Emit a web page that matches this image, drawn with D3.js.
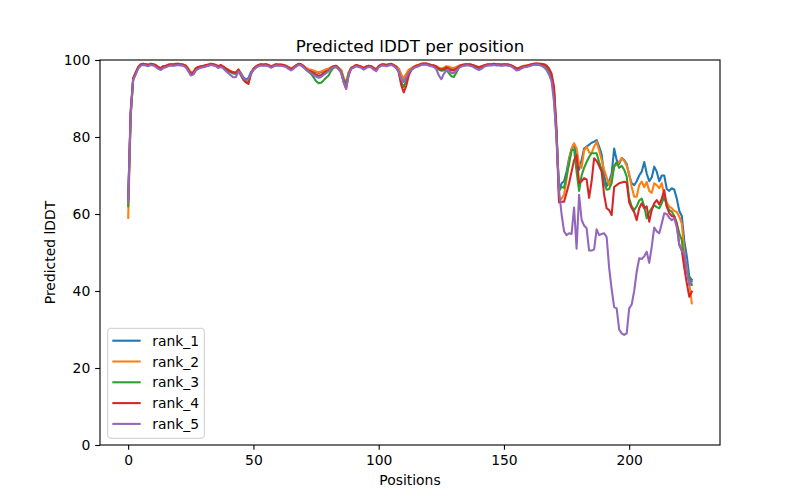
<!DOCTYPE html>
<html>
<head>
<meta charset="utf-8">
<script src="https://cdn.jsdelivr.net/npm/d3@7"></script>
<style>
  body { margin: 0; background: #fff; }
  svg { font-family: "DejaVu Sans", sans-serif; }
</style>
</head>
<body>
<svg id="chart" width="800" height="500"></svg>
<script>
// values, one per position 0..225
const rank1 = [63, 86, 95, 96.5, 98, 98.7, 98.9, 98.8, 98.6, 98.9,
  98.8, 98.5, 98, 97.6, 98.2, 98.3, 98.6, 98.8, 98.7, 98.8,
  98.9, 98.8, 98.7, 98.4, 97.5, 96.3, 96.5, 97.6, 98, 98.2,
  98.3, 98.5, 98.7, 98.9, 98.8, 98.6, 98.2, 98.5, 98.1, 97.6,
  97.2, 96.9, 96.6, 96.5, 97.4, 96.6, 95.5, 94.9, 95.3, 96.9,
  97.6, 98.2, 98.6, 98.8, 98.7, 98.8, 98.6, 98.2, 98.5, 98.8,
  98.7, 98.7, 98.6, 98.4, 98, 97.6, 98, 98.5, 98.9, 98.8,
  98.4, 97.8, 97.4, 97.3, 97, 96.8, 96.6, 96.8, 97.1, 97.4,
  97.6, 98, 98.3, 98.4, 97.9, 97.3, 95, 93.6, 96.6, 97.9,
  98.2, 98.6, 98.4, 98.2, 97.8, 98.2, 98.4, 98.3, 97.8, 97.4,
  98.3, 98.7, 98.8, 98.6, 98.8, 98.9, 98.6, 98.2, 97.6, 96,
  95, 96, 97.1, 97.6, 98.1, 98.4, 98.6, 98.9, 99, 99,
  98.8, 98.6, 98.5, 98.2, 97.7, 97.5, 97.7, 98, 97.9, 97.6,
  97.7, 98, 98.3, 98.6, 98.7, 98.8, 98.8, 98.7, 98.5, 98.2,
  98, 98.2, 98.5, 98.7, 98.8, 98.8, 98.9, 98.8, 98.8, 98.7,
  98.8, 98.8, 98.7, 98.5, 98.1, 97.7, 97.8, 98.1, 98.3, 98.4,
  98.6, 98.8, 98.9, 99, 98.9, 98.8, 98.6, 98.2, 97, 95.5,
  91, 80, 66, 68, 68.5, 71, 74.5, 76.8, 78.3, 75,
  71.5, 74, 77, 77.5, 78, 78.5, 78.8, 79.2, 77.5, 75.5,
  70, 67.2, 68.5, 70.5, 77, 74, 73, 74.5, 74, 73,
  70, 68, 67.5, 68.5, 70, 71, 73.5, 70.5, 68.5, 69.5,
  72.3, 71, 68.5, 70, 70, 66.5, 66, 66.7, 66.3, 64,
  60.8, 59.5, 53, 49, 43.7, 42.9]

const rank2 = [59, 85, 95, 96.6, 98.1, 98.8, 99, 98.9, 98.7, 99,
  98.9, 98.6, 98.1, 97.8, 98.3, 98.4, 98.7, 98.9, 98.8, 98.9,
  99, 98.9, 98.8, 98.6, 97.8, 96.8, 97, 97.9, 98.2, 98.3,
  98.4, 98.6, 98.8, 99, 98.9, 98.7, 98.3, 98.6, 98.2, 97.8,
  97.4, 97.1, 96.8, 96.8, 97.6, 96.5, 95.2, 94.5, 94, 96.5,
  97.8, 98.4, 98.7, 98.9, 98.8, 98.9, 98.7, 98.4, 98.6, 98.9,
  98.8, 98.8, 98.7, 98.5, 98.2, 97.8, 98.1, 98.6, 99, 98.9,
  98.5, 98, 97.6, 97.5, 97.3, 97, 96.8, 97, 97.3, 97.6,
  97.8, 98.1, 98.4, 98.5, 98, 97.5, 95.5, 94, 96.8, 98,
  98.3, 98.7, 98.5, 98.3, 98, 98.3, 98.5, 98.4, 98, 97.6,
  98.4, 98.8, 98.9, 98.7, 98.9, 99, 98.7, 98.4, 97.8, 96.3,
  95.2, 96.4, 97.5, 97.9, 98.3, 98.6, 98.8, 99, 99.1, 99.1,
  98.9, 98.7, 98.6, 98.4, 98, 97.8, 98, 98.4, 98.3, 98,
  98, 98.2, 98.5, 98.7, 98.8, 98.9, 98.9, 98.8, 98.6, 98.4,
  98.2, 98.4, 98.6, 98.8, 98.9, 98.9, 99, 98.9, 98.9, 98.8,
  98.9, 98.9, 98.8, 98.6, 98.3, 97.9, 98, 98.3, 98.5, 98.6,
  98.7, 98.9, 99, 99.1, 99, 98.9, 98.8, 98.4, 97.2, 95.5,
  91, 79, 63.5, 64, 65, 69, 74, 77, 78.3, 77,
  73, 72, 76.5, 77.5, 76, 75.8, 77.5, 78.8, 76.5, 74,
  71.5, 69.5, 67.5, 69.5, 72.3, 72.8, 73.5, 74.5, 73.8, 72.5,
  70.5, 67, 64.5, 64.5, 67.5, 68.4, 67, 68.3, 66, 65.5,
  68, 67.5, 66.7, 68, 64.8, 63, 61.9, 61.5, 60.8, 60.5,
  59.3, 57.5, 50, 46, 42, 36.8]

const rank3 = [62, 86, 95.2, 96.6, 98, 98.7, 98.8, 98.7, 98.5, 98.8,
  98.7, 98.4, 97.9, 97.6, 98.1, 98.2, 98.5, 98.7, 98.6, 98.7,
  98.8, 98.7, 98.6, 98.3, 97.4, 96.2, 96.4, 97.5, 97.9, 98.1,
  98.2, 98.4, 98.6, 98.8, 98.7, 98.5, 98.1, 98.4, 98, 97.5,
  97.1, 96.8, 96.5, 96.4, 97.2, 96, 94.8, 94.2, 94.3, 96.4,
  97.5, 98.1, 98.5, 98.7, 98.6, 98.7, 98.5, 98.1, 98.4, 98.7,
  98.6, 98.6, 98.5, 98.3, 97.9, 97.5, 97.9, 98.4, 98.8, 98.7,
  98.2, 97.5, 96.9, 96.4, 95.5, 94.5, 94, 94.1, 94.7, 95.4,
  96, 97.2, 98, 98.2, 97.7, 97, 95, 93.8, 96.4, 97.8,
  98.1, 98.5, 98.3, 98.1, 97.7, 98.1, 98.3, 98.2, 97.7, 97.3,
  98.2, 98.6, 98.7, 98.5, 98.7, 98.8, 98.5, 98, 97, 94.3,
  93, 94.5, 96.5, 97.4, 98, 98.3, 98.5, 98.8, 98.9, 98.9,
  98.7, 98.5, 98.4, 98.1, 97.5, 97.2, 97.3, 97.5, 96.6, 95.8,
  95.6, 96.7, 98, 98.5, 98.6, 98.7, 98.7, 98.6, 98.4, 98.1,
  97.9, 98.1, 98.4, 98.6, 98.7, 98.7, 98.8, 98.7, 98.7, 98.6,
  98.7, 98.7, 98.6, 98.4, 98, 97.6, 97.7, 98, 98.2, 98.3,
  98.5, 98.7, 98.8, 98.9, 98.8, 98.7, 98.5, 98.1, 97.3, 95.8,
  92, 81, 66, 67, 66.8, 70, 73, 76.5, 76.8, 71,
  66, 70, 72, 73.5, 74.8, 75.8, 75.8, 75.8, 73.5, 71.5,
  68, 66.3, 66.5, 68, 72.5, 73.5, 72, 72.5, 71.5, 69.7,
  64, 62, 61, 62, 63.5, 64, 62, 58.9, 60.5, 61.5,
  62.3, 61.8, 61.5, 62.8, 64.5, 62, 61, 60.6, 59.5, 57.6,
  55, 53.2, 47, 45, 43.7, 41.6]

const rank4 = [64, 87, 95.3, 96.8, 98.2, 98.9, 99, 98.9, 98.8, 99,
  98.9, 98.7, 98.2, 97.9, 98.4, 98.5, 98.8, 98.9, 98.9, 99,
  99, 98.9, 98.8, 98.5, 97.6, 96.4, 96.6, 97.8, 98.2, 98.4,
  98.5, 98.7, 98.8, 99, 98.9, 98.7, 98.4, 98.7, 98.3, 97.8,
  97.4, 97, 96.8, 96.7, 97.5, 96.2, 95, 94.2, 93.8, 96.4,
  97.7, 98.3, 98.7, 98.9, 98.8, 98.9, 98.7, 98.3, 98.6, 98.9,
  98.8, 98.8, 98.7, 98.5, 98.1, 97.7, 98.1, 98.6, 99, 98.9,
  98.4, 97.7, 97.2, 97, 96.6, 96.2, 95.9, 96.1, 96.6, 97,
  97.3, 98, 98.4, 98.5, 97.8, 96.8, 94.3, 92.5, 96, 97.9,
  98.3, 98.7, 98.5, 98.3, 97.9, 98.3, 98.5, 98.4, 97.9, 97.5,
  98.4, 98.8, 98.9, 98.7, 98.9, 99, 98.7, 98.2, 96.8, 93.5,
  91.6, 93.3, 96, 97.4, 98.1, 98.5, 98.7, 99, 99.1, 99.1,
  98.9, 98.7, 98.6, 98.3, 97.8, 97.5, 97.7, 98.1, 97.8, 97.3,
  97.3, 97.8, 98.3, 98.7, 98.8, 98.9, 98.9, 98.8, 98.6, 98.3,
  98.1, 98.3, 98.6, 98.8, 98.9, 98.9, 99, 98.9, 98.9, 98.8,
  98.9, 98.9, 98.8, 98.6, 98.2, 97.8, 97.9, 98.2, 98.4, 98.5,
  98.7, 98.9, 99, 99.1, 99, 99, 98.9, 98.6, 97.8, 96.5,
  93, 82, 63, 63.2, 63.2, 65.5, 68, 71, 74, 75.3,
  68, 68.5, 69.3, 69, 64.2, 68.5, 74.5, 73.8, 72.5, 71,
  65, 61.5, 61, 59.7, 67, 67.5, 68, 68.2, 68.4, 68.2,
  63, 61.5, 60.5, 58.4, 61.5, 62.8, 61.5, 62, 58, 61,
  62.8, 63.6, 62.5, 64, 66.2, 62, 60.2, 59.5, 59.3, 57.5,
  52, 50.6, 46, 42, 38.5, 39.8]

const rank5 = [63, 86, 94.8, 96.2, 97.8, 98.5, 98.7, 98.6, 98.4, 98.7,
  98.6, 98.2, 97.7, 97.4, 97.9, 98.1, 98.4, 98.6, 98.5, 98.6,
  98.7, 98.6, 98.5, 98.1, 97.1, 96, 96.2, 97.3, 97.7, 98,
  98.1, 98.3, 98.5, 98.7, 98.6, 98.4, 97.9, 98.2, 97.8, 97.1,
  96.6, 96, 95.5, 95.6, 97, 96.3, 95.3, 94.8, 95, 96.6,
  97.4, 98, 98.4, 98.6, 98.5, 98.6, 98.4, 98, 98.3, 98.6,
  98.5, 98.5, 98.4, 98.2, 97.7, 97.3, 97.7, 98.3, 98.7, 98.6,
  98.1, 97.5, 97, 96.6, 96.1, 95.7, 95.4, 95.6, 96.1, 96.6,
  97.1, 97.8, 98.1, 98.2, 97.6, 96.7, 94.2, 92.6, 96.1, 97.7,
  98, 98.4, 98.2, 98, 97.5, 97.9, 98.2, 98.1, 97.5, 97.1,
  98.1, 98.5, 98.6, 98.4, 98.6, 98.7, 98.4, 97.9, 97, 95,
  94.3, 95.5, 96.8, 97.4, 97.9, 98.2, 98.4, 98.7, 98.8, 98.8,
  98.6, 98.4, 98.2, 97.6, 96, 95, 96.4, 97.2, 97.3, 96.6,
  96.6, 97.2, 97.9, 98.3, 98.5, 98.6, 98.6, 98.4, 98.1, 97.7,
  97.4, 97.7, 98.2, 98.5, 98.6, 98.6, 98.7, 98.6, 98.6, 98.5,
  98.6, 98.6, 98.5, 98.3, 97.8, 97.3, 97.4, 97.8, 98.1, 98.2,
  98.4, 98.6, 98.7, 98.8, 98.7, 98.5, 98.1, 97.4, 96.2, 94.5,
  89, 80, 66, 60, 55.5, 54.5, 55, 54.8, 61.7, 51,
  65, 58.5, 57, 56.3, 50.5, 50.5, 50.8, 56, 54.5, 54.8,
  55, 54, 46, 40.5, 35.8, 35.5, 30, 29, 28.6, 29,
  35.5, 36.5, 40, 45, 48.5, 48.3, 49, 50.2, 47.3, 51.5,
  56.5, 55.5, 55, 57.5, 60.2, 60, 59, 58.4, 58.9, 56.5,
  52, 50.4, 49.8, 45, 41.5, 42.5]

const seriesNames = ['rank_1', 'rank_2', 'rank_3', 'rank_4', 'rank_5']
const seriesValues = [rank1, rank2, rank3, rank4, rank5]
const colors = ['#1f77b4', '#ff7f0e', '#2ca02c', '#d62728', '#9467bd']
const xTicks = [0, 50, 100, 150, 200]
const yTicks = [0, 20, 40, 60, 80, 100]

var margin = { left: 100, right: 80, top: 60, bottom: 55 },
  w = 800,
  h = 500,
  n = rank1.length

// matplotlib pads the x data range by 5% on each side
var x = d3
  .scaleLinear()
  .domain([-0.05 * (n - 1), (n - 1) * 1.05])
  .range([margin.left, w - margin.right])
var y = d3
  .scaleLinear()
  .domain([0, 100])
  .range([h - margin.bottom, margin.top])

var svg = d3.select('#chart')

svg
  .append('defs')
  .append('clipPath')
  .attr('id', 'plot')
  .append('rect')
  .attr('x', margin.left)
  .attr('y', margin.top)
  .attr('width', w - margin.left - margin.right)
  .attr('height', h - margin.top - margin.bottom)

var line = d3
  .line()
  .x((d, i) => x(i))
  .y(d => y(d))

svg
  .append('g')
  .attr('clip-path', 'url(#plot)')
  .selectAll('path')
  .data(seriesValues)
  .join('path')
  .attr('d', line)
  .attr('fill', 'none')
  .attr('stroke', (d, i) => colors[i])
  .attr('stroke-width', 2.08)
  .attr('stroke-linejoin', 'round')
  .attr('stroke-linecap', 'square')

// axes
var tick = 4.86
var xAxis = svg
  .append('g')
  .attr('transform', 'translate(0,' + (h - margin.bottom) + ')')
  .call(d3.axisBottom(x).tickValues(xTicks).tickSize(tick).tickPadding(4.86).tickSizeOuter(0))
var yAxis = svg
  .append('g')
  .attr('transform', 'translate(' + margin.left + ',0)')
  .call(d3.axisLeft(y).tickValues(yTicks).tickSize(tick).tickPadding(4.86).tickSizeOuter(0))

svg.selectAll('.domain').remove()
;[xAxis, yAxis].forEach(g => {
  g.selectAll('text').attr('font-size', 13.9).attr('fill', '#000').attr('font-family', 'DejaVu Sans')
  g.selectAll('line').attr('stroke', '#000').attr('stroke-width', 1.1)
})

// frame
svg
  .append('rect')
  .attr('x', margin.left)
  .attr('y', margin.top)
  .attr('width', w - margin.left - margin.right)
  .attr('height', h - margin.top - margin.bottom)
  .attr('fill', 'none')
  .attr('stroke', '#000')
  .attr('stroke-width', 1.1)

svg
  .append('text')
  .attr('x', (margin.left + w - margin.right) / 2)
  .attr('y', margin.top - 8.3)
  .attr('text-anchor', 'middle')
  .attr('font-size', 16.7)
  .text('Predicted lDDT per position')

svg
  .append('text')
  .attr('x', (margin.left + w - margin.right) / 2)
  .attr('y', 485)
  .attr('text-anchor', 'middle')
  .attr('font-size', 13.9)
  .text('Positions')

svg
  .append('text')
  .attr('transform', 'translate(55,' + (margin.top + h - margin.bottom) / 2 + ')rotate(-90)')
  .attr('text-anchor', 'middle')
  .attr('font-size', 13.9)
  .text('Predicted lDDT')

// legend, lower left
var lg = svg.append('g').attr('transform', 'translate(107.7,328.3)')
lg.append('rect')
  .attr('width', 196.6 - 100)
  .attr('height', 110)
  .attr('rx', 3)
  .attr('fill', '#fff')
  .attr('fill-opacity', 0.8)
  .attr('stroke', '#cccccc')
  .attr('stroke-width', 1)

var rows = lg
  .selectAll('g.row')
  .data(seriesNames)
  .join('g')
  .attr('class', 'row')
  .attr('transform', (d, i) => 'translate(0,' + (12.4 + i * 20.8) + ')')
rows
  .append('line')
  .attr('x1', 4.6)
  .attr('x2', 33)
  .attr('stroke', (d, i) => colors[i])
  .attr('stroke-width', 2.08)
rows
  .append('text')
  .attr('x', 44.6)
  .attr('dy', '0.36em')
  .attr('font-size', 13.9)
  .text(d => d)
</script>
</body>
</html>
